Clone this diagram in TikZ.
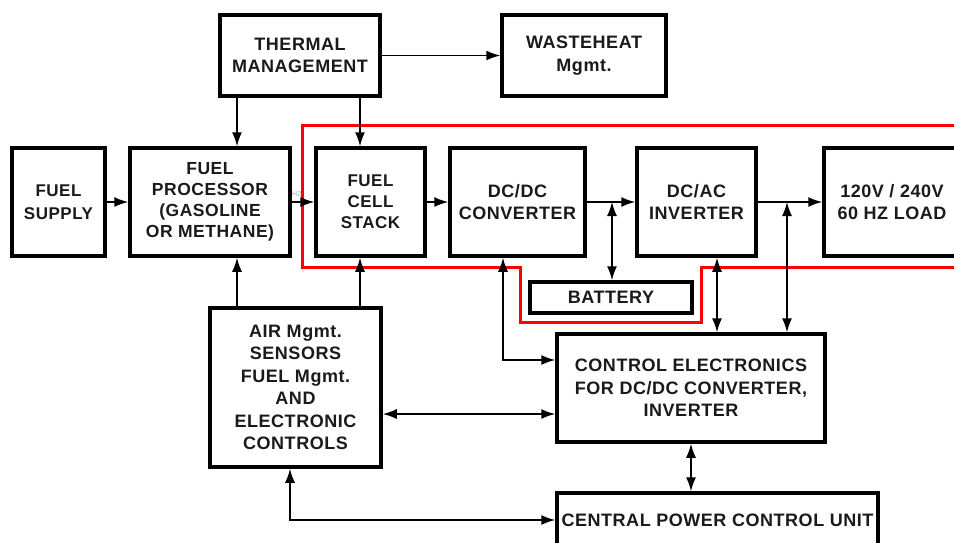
\documentclass[tikz,border=0pt]{standalone}
\usepackage{fontspec}
\setmainfont{Liberation Sans}[LetterSpace=3]
\usetikzlibrary{positioning,arrows.meta}
\definecolor{fcRed}{HTML}{FF0000}
\definecolor{fcInk}{HTML}{1A1A1A}
\begin{document}
\begin{tikzpicture}[x=1pt, y=-1pt,
      blk/.style={draw=black, line width=3.5pt, fill=white, align=center,
                  inner sep=0pt, text=fcInk,
                  font=\fontsize{18}{22.5}\selectfont\bfseries},
      arr/.style={-{Latex[length=14pt,width=10pt]}, line width=1.5pt},
      dbl/.style={{Latex[length=14pt,width=10pt]}-{Latex[length=14pt,width=10pt]}, line width=1.5pt},
      every node/.style={align=center}]
    \useasboundingbox (0,0) rectangle (954,542);
    \clip (0,0) rectangle (954,542);
    % red outline of the power path
    \draw[fcRed, line width=3pt] (970,125) -- (302,125) -- (302,267) -- (520,267)
      -- (520,322) -- (701,322) -- (701,267) -- (970,267);
    % lanes for the vertical links
    \coordinate (lnA) at (237,0);
    \coordinate (lnB) at (360,0);
    \coordinate (lnC) at (503,0);
    \coordinate (lnJ1) at (612,0);
    \coordinate (lnD) at (717,0);
    \coordinate (lnJ2) at (787,0);
    \coordinate (lnE) at (290,0);
    \coordinate (rwA) at (0,414);
    \coordinate (rwB) at (0,360);
    % boxes
    \node[blk, minimum width=160pt, minimum height=81pt] (therm) at (300,55.5) {THERMAL\\MANAGEMENT};
    \node[blk, minimum width=164pt, minimum height=81pt] (waste) at (584,55.5) {WASTEHEAT\\Mgmt.};
    \node[blk, minimum width=93pt, minimum height=108pt,
          font=\fontsize{17}{23}\selectfont\bfseries] (supply) at (58.5,202) {FUEL\\SUPPLY};
    \node[blk, minimum width=160pt, minimum height=108pt,
          font=\fontsize{17.5}{21}\selectfont\bfseries] (proc) at (210,202) {FUEL\\PROCESSOR\\(GASOLINE\\OR METHANE)};
    \node[blk, minimum width=109pt, minimum height=108pt,
          font=\fontsize{17}{21}\selectfont\bfseries] (stack) at (370.5,202) {FUEL\\CELL\\STACK};
    \node[blk, minimum width=135pt, minimum height=108pt] (dcdc) at (517.5,202) {DC/DC\\CONVERTER};
    \node[blk, minimum width=119pt, minimum height=108pt] (dcac) at (696.5,202) {DC/AC\\INVERTER};
    \node[blk, minimum width=136pt, minimum height=108pt] (load) at (892,202) {120V / 240V\\60 HZ LOAD};
    \node[blk, minimum width=162pt, minimum height=31pt] (bat) at (611,297.5) {BATTERY};
    \node[blk, minimum width=171pt, minimum height=159pt] (air) at (295.5,387.5)
      {AIR Mgmt.\\SENSORS\\FUEL Mgmt.\\AND\\ELECTRONIC\\CONTROLS};
    \node[blk, minimum width=268pt, minimum height=108pt] (ce) at (691,388)
      {CONTROL ELECTRONICS\\FOR DC/DC CONVERTER,\\INVERTER};
    \node[blk, minimum width=321pt, minimum height=54pt] (cpcu) at (717.5,520) {CENTRAL POWER CONTROL UNIT};
    % links
    \draw[arr] (therm) -- (waste);
    \draw[arr] (therm.south -| lnA) -- (proc.north -| lnA);
    \draw[arr] (therm.south -| lnB) -- (stack.north -| lnB);
    \draw[arr] (supply) -- (proc);
    \draw[arr] (proc) -- node[pos=0.22, above=1pt, font=\fontsize{7}{8}\selectfont, text=gray!70] (hy) {H2} (stack);
    \draw[arr] (stack) -- (dcdc);
    \draw[arr] (dcdc) -- (dcac);
    \draw[arr] (dcac) -- (load);
    \draw[dbl] (dcdc.east -| lnJ1) -- (bat.north -| lnJ1);
    \draw[dbl] (dcac.east -| lnJ2) -- (ce.north -| lnJ2);
    \draw[dbl] (dcdc.south -| lnC) |- (ce.west |- rwB);
    \draw[dbl] (dcac.south -| lnD) -- (ce.north -| lnD);
    \draw[arr] (air.north -| lnA) -- (proc.south -| lnA);
    \draw[arr] (air.north -| lnB) -- (stack.south -| lnB);
    \draw[dbl] (air.east |- rwA) -- (ce.west |- rwA);
    \draw[dbl] (air.south -| lnE) |- (cpcu.west);
    \draw[dbl] (ce.south) -- (ce.south |- cpcu.north);
  \end{tikzpicture}
\end{document}
